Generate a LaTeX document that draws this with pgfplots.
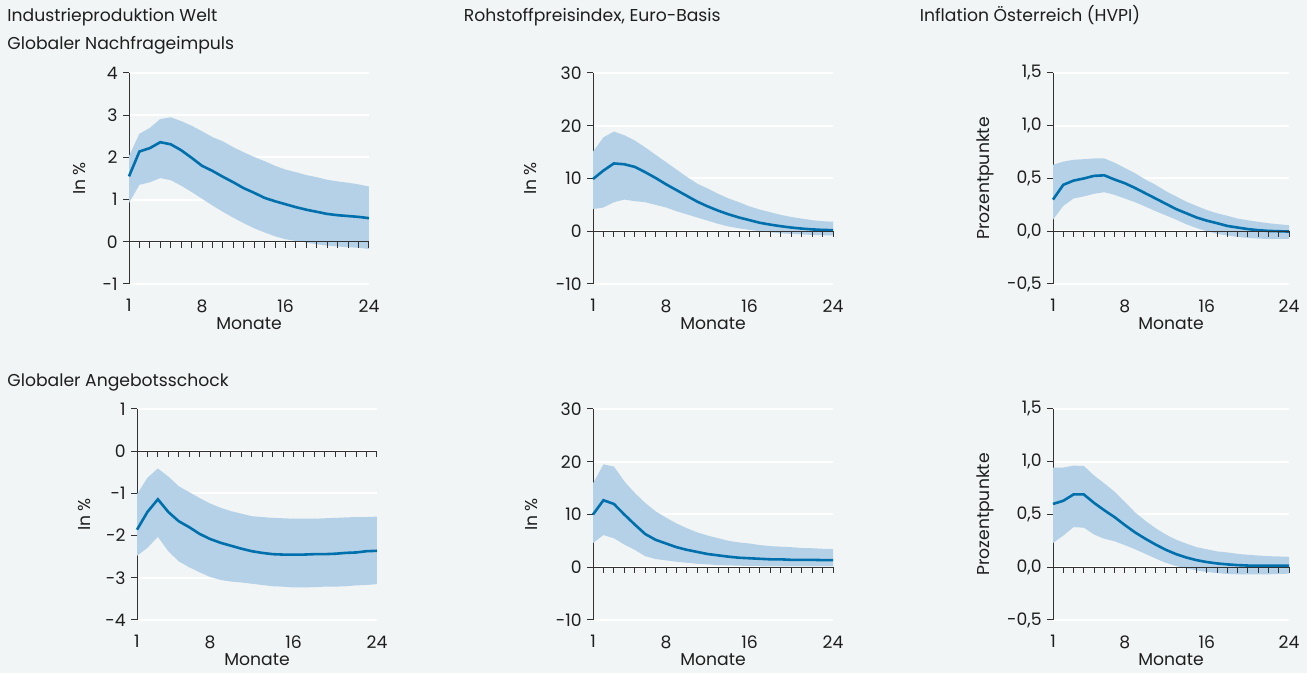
\documentclass[border=0pt]{standalone}
\usepackage{fontspec}
\setmainfont{Poppins}
\usepackage{pgfplots}
\pgfplotsset{compat=1.18}
\usepackage{pgfplotstable}
\usepgfplotslibrary{fillbetween}
\definecolor{bgcol}{RGB}{241,245,245}
\definecolor{bandcol}{RGB}{181,209,231}
\definecolor{linecol}{RGB}{0,112,173}
\definecolor{axcol}{RGB}{50,50,50}
\definecolor{txtcol}{RGB}{30,30,30}
\pagecolor{bgcol}
\newcommand\fs{\fontsize{8.6}{10.3}\selectfont}

\pgfplotstableread{
m lo mid hi
1 0.92 1.55 2.03
2 1.35 2.14 2.56
3 1.41 2.22 2.70
4 1.51 2.36 2.91
5 1.46 2.31 2.95
6 1.33 2.17 2.86
7 1.18 1.99 2.75
8 1.02 1.80 2.62
9 0.86 1.68 2.48
10 0.71 1.54 2.38
11 0.57 1.41 2.24
12 0.44 1.27 2.12
13 0.32 1.16 2.01
14 0.22 1.04 1.91
15 0.13 0.96 1.80
16 0.06 0.89 1.71
17 0.02 0.82 1.65
18 -0.02 0.76 1.58
19 -0.06 0.71 1.53
20 -0.09 0.66 1.47
21 -0.11 0.63 1.43
22 -0.13 0.61 1.40
23 -0.14 0.59 1.36
24 -0.17 0.56 1.31
}\tA
\pgfplotstableread{
m lo mid hi
1 4.2 9.9 15.1
2 4.5 11.5 17.8
3 5.5 12.85 18.9
4 6.0 12.7 18.2
5 5.7 12.2 17.2
6 5.5 11.2 15.9
7 5.0 10.1 14.5
8 4.5 8.9 13.1
9 3.8 7.8 11.7
10 3.2 6.7 10.3
11 2.6 5.6 9.0
12 2.0 4.7 8.1
13 1.4 3.9 7.1
14 0.9 3.2 6.2
15 0.55 2.6 5.5
16 0.25 2.1 4.7
17 0.0 1.6 4.1
18 -0.2 1.25 3.6
19 -0.4 0.95 3.1
20 -0.5 0.7 2.7
21 -0.6 0.5 2.4
22 -0.7 0.35 2.1
23 -0.75 0.25 1.9
24 -0.8 0.2 1.8
}\tB
\pgfplotstableread{
m lo mid hi
1 0.11 0.30 0.63
2 0.24 0.44 0.66
3 0.31 0.48 0.677
4 0.33 0.50 0.683
5 0.355 0.525 0.69
6 0.37 0.53 0.69
7 0.345 0.49 0.65
8 0.31 0.455 0.60
9 0.275 0.41 0.55
10 0.234 0.36 0.49
11 0.19 0.31 0.44
12 0.15 0.26 0.38
13 0.11 0.21 0.33
14 0.066 0.17 0.28
15 0.03 0.13 0.24
16 0.0 0.10 0.20
17 -0.025 0.076 0.17
18 -0.04 0.05 0.146
19 -0.054 0.035 0.12
20 -0.063 0.02 0.104
21 -0.07 0.01 0.089
22 -0.073 0.003 0.076
23 -0.073 0.0 0.066
24 -0.073 -0.003 0.057
}\tC
\pgfplotstableread{
m lo mid hi
1 -2.48 -1.86 -1.02
2 -2.29 -1.44 -0.63
3 -2.03 -1.14 -0.41
4 -2.37 -1.44 -0.60
5 -2.61 -1.66 -0.83
6 -2.75 -1.80 -0.97
7 -2.87 -1.96 -1.11
8 -2.98 -2.08 -1.24
9 -3.05 -2.17 -1.34
10 -3.09 -2.24 -1.42
11 -3.11 -2.31 -1.48
12 -3.14 -2.37 -1.54
13 -3.17 -2.41 -1.56
14 -3.20 -2.44 -1.58
15 -3.21 -2.45 -1.59
16 -3.23 -2.45 -1.60
17 -3.23 -2.45 -1.60
18 -3.22 -2.44 -1.60
19 -3.21 -2.44 -1.59
20 -3.21 -2.43 -1.58
21 -3.20 -2.41 -1.57
22 -3.18 -2.40 -1.56
23 -3.17 -2.37 -1.56
24 -3.15 -2.36 -1.55
}\tD
\pgfplotstableread{
m lo mid hi
1 4.6 10.0 15.9
2 6.1 12.7 19.5
3 5.5 12.0 19.1
4 4.3 10.0 16.3
5 3.3 8.1 14.1
6 2.1 6.3 12.2
7 1.55 5.2 10.6
8 1.3 4.5 9.4
9 1.05 3.8 8.3
10 0.85 3.3 7.4
11 0.65 2.9 6.6
12 0.55 2.5 6.0
13 0.4 2.25 5.5
14 0.35 2.0 5.0
15 0.3 1.8 4.7
16 0.22 1.7 4.5
17 0.19 1.6 4.2
18 0.16 1.5 4.0
19 0.16 1.5 3.9
20 0.16 1.4 3.8
21 0.16 1.4 3.65
22 0.16 1.4 3.6
23 0.16 1.35 3.5
24 0.16 1.35 3.45
}\tE
\pgfplotstableread{
m lo mid hi
1 0.23 0.60 0.945
2 0.30 0.63 0.945
3 0.38 0.69 0.963
4 0.375 0.69 0.96
5 0.31 0.61 0.87
6 0.27 0.54 0.795
7 0.246 0.475 0.716
8 0.21 0.40 0.62
9 0.17 0.33 0.52
10 0.127 0.27 0.44
11 0.083 0.215 0.37
12 0.042 0.165 0.31
13 0.011 0.124 0.26
14 -0.011 0.092 0.224
15 -0.03 0.067 0.19
16 -0.045 0.049 0.17
17 -0.055 0.036 0.15
18 -0.064 0.027 0.14
19 -0.067 0.02 0.127
20 -0.067 0.016 0.118
21 -0.067 0.014 0.111
22 -0.067 0.014 0.105
23 -0.064 0.014 0.102
24 -0.061 0.014 0.099
}\tF

\pgfplotsset{
  panel/.style={
    scale only axis, width=120pt, height=105.5pt, anchor=south west,
    xmin=1, xmax=24, enlargelimits=false,
    axis x line*=bottom, axis y line*=left,
    x axis line style={draw=none},
    y axis line style={draw=axcol, line width=0.5pt, -},
    xtick={1,8,16,24}, xticklabels={1,8,16,24},
    xtick style={draw=none},
    xticklabel style={anchor=north, yshift=-1.2pt},
    ytick style={draw=axcol, line width=0.5pt},
    tick align=outside, major tick length=3pt,
    yticklabel style={anchor=east, inner sep=0pt, xshift=-2.5pt},
    ymajorgrids, grid style={white, line width=1pt},
    tick label style={font=\fs, text=txtcol},
    label style={font=\fs, text=txtcol},
    xlabel=Monate,
    xlabel style={at={(axis description cs:0.5,-0.19)}, anchor=center},
    clip=false,
  },
  ylab/.style={ylabel style={at={(axis description cs:#1,0.5)}, anchor=center}},
}

\newcommand{\panel}[1]{%
  \addplot[name path=hi, draw=none, forget plot] table[x=m,y=hi]{#1};
  \addplot[name path=lo, draw=none, forget plot] table[x=m,y=lo]{#1};
  \addplot[fill=bandcol, draw=none] fill between[of=hi and lo];
  \addplot[linecol, line width=1.3pt] table[x=m,y=mid]{#1};
  \draw[axcol, line width=0.5pt] (axis cs:1,0) -- (axis cs:24,0);
  \foreach \k in {2,...,24}{%
    \edef\temp{\noexpand\draw[axcol, line width=0.5pt] (axis cs:\k,0) -- ++(0pt,-3pt);}\temp}
}

\begin{document}%
\begin{tikzpicture}
\path (0,0) rectangle (653.5pt,336.5pt);

\node[anchor=base west, inner sep=0pt, font=\fs, text=txtcol] at (3.5pt,325.6pt) {Industrieproduktion Welt};
\node[anchor=base west, inner sep=0pt, font=\fs, text=txtcol] at (3.5pt,311.8pt) {Globaler Nachfrageimpuls};
\node[anchor=base west, inner sep=0pt, font=\fs, text=txtcol] at (231.7pt,325.6pt) {Rohstoffpreisindex, Euro-Basis};
\node[anchor=base west, inner sep=0pt, font=\fs, text=txtcol] at (459.7pt,325.6pt) {Inflation Österreich (HVPI)};
\node[anchor=base west, inner sep=0pt, font=\fs, text=txtcol] at (3.5pt,143.2pt) {Globaler Angebotsschock};

% Top row
\begin{axis}[panel, at={(64.5pt,194.5pt)}, ymin=-1, ymax=4,
  ytick={-1,0,1,2,3,4}, yticklabels={-1,0,1,2,3,4},
  ylabel={In \%}, ylab=-0.208]
\panel{\tA}
\end{axis}
\begin{axis}[panel, at={(296.5pt,194.5pt)}, ymin=-10, ymax=30,
  ytick={-10,0,10,20,30}, yticklabels={-10,0,10,20,30},
  ylabel={In \%}, ylab=-0.262]
\panel{\tB}
\end{axis}
\begin{axis}[panel, width=118pt, at={(526.5pt,194.5pt)}, ymin=-0.5, ymax=1.5,
  ytick={-0.5,0,0.5,1,1.5}, yticklabels={{-0,5},{0,0},{0,5},{1,0},{1,5}},
  ylabel={Prozentpunkte}, ylab=-0.288]
\panel{\tC}
\end{axis}

% Bottom row
\begin{axis}[panel, at={(68.5pt,26.5pt)}, ymin=-4, ymax=1,
  ytick={-4,-3,-2,-1,0,1}, yticklabels={-4,-3,-2,-1,0,1},
  ylabel={In \%}, ylab=-0.217]
\panel{\tD}
\end{axis}
\begin{axis}[panel, at={(296.5pt,26.5pt)}, ymin=-10, ymax=30,
  ytick={-10,0,10,20,30}, yticklabels={-10,0,10,20,30},
  ylabel={In \%}, ylab=-0.258]
\panel{\tE}
\end{axis}
\begin{axis}[panel, width=118pt, at={(526.5pt,26.5pt)}, ymin=-0.5, ymax=1.5,
  ytick={-0.5,0,0.5,1,1.5}, yticklabels={{-0,5},{0,0},{0,5},{1,0},{1,5}},
  ylabel={Prozentpunkte}, ylab=-0.288]
\panel{\tF}
\end{axis}
\end{tikzpicture}%
\end{document}
